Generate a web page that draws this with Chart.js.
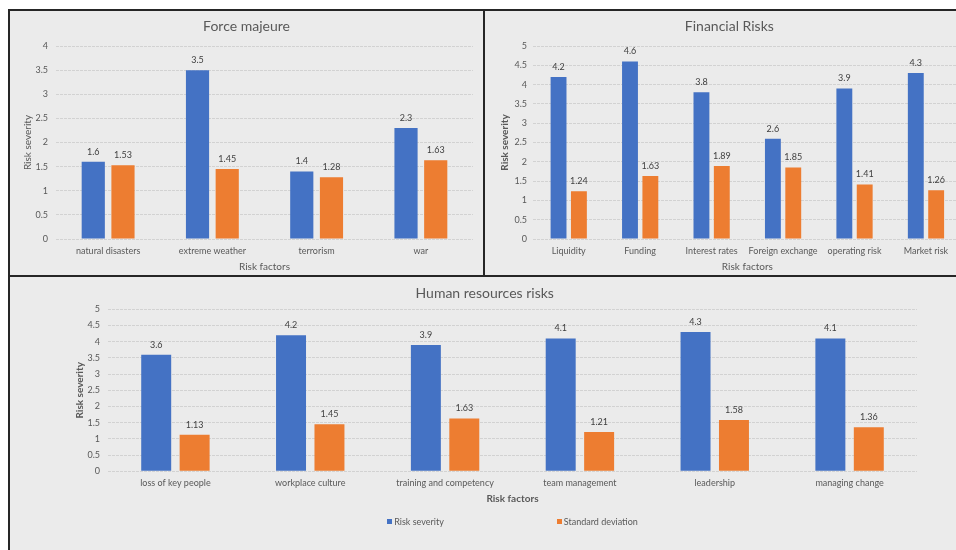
<!DOCTYPE html>
<html>
<head>
<meta charset="utf-8">
<script src="https://cdn.jsdelivr.net/npm/chart.js@4.4.0/dist/chart.umd.min.js"></script>
<style>
    body { margin: 0; width: 956px; height: 550px; overflow: hidden; background: #fff; position: relative; font-family: Lato, sans-serif }
    #wrap { position: absolute; left: 8px; top: 9px; width: 960px; height: 545px; background: #ebebeb; border-left: 2px solid #262626; border-top: 2px solid #262626 }
    .box { position: absolute }
    .box canvas { display: block }
    #vline { position: absolute; left: 473px; top: 0; width: 2px; height: 264px; background: #262626 }
    #hline { position: absolute; left: 0; top: 264px; width: 960px; height: 2px; background: #262626 }
    #legend { position: absolute; left: 98px; width: 809px; top: 504px; height: 12px; display: flex; justify-content: center; align-items: center; gap: 113px; font-size: 9px; color: #595959 }
    #legend span.item { display: flex; align-items: center }
    #legend i { display: inline-block; width: 5px; height: 5px; margin-right: 2px }
</style>
</head>
<body>
<div id="wrap">
    <div class="box" style="left:0;top:0"><canvas id="force" width="473" height="264"></canvas></div>
    <div id="vline"></div>
    <div class="box" style="left:475px;top:0"><canvas id="finance" width="488" height="264"></canvas></div>
    <div id="hline"></div>
    <div class="box" style="left:0;top:266px"><canvas id="human" width="946" height="273"></canvas></div>
    <div id="legend">
        <span class="item"><i style="background:#4472c4"></i>Risk severity</span>
        <span class="item"><i style="background:#ed7d31"></i>Standard deviation</span>
    </div>
</div>

<script>
const seriesNames = ["Risk severity", "Standard deviation"]

const forceLabels = ["natural disasters", "extreme weather", "terrorism", "war"]
const forceSeverity = [1.6, 3.5, 1.4, 2.3]
const forceDeviation = [1.53, 1.45, 1.28, 1.63]

const financeLabels = ["Liquidity", "Funding", "Interest rates", "Foreign exchange", "operating risk", "Market risk"]
const financeSeverity = [4.2, 4.6, 3.8, 2.6, 3.9, 4.3]
const financeDeviation = [1.24, 1.63, 1.89, 1.85, 1.41, 1.26]

const humanLabels = ["loss of key people", "workplace culture", "training and competency", "team management", "leadership", "managing change"]
const humanSeverity = [3.6, 4.2, 3.9, 4.1, 4.3, 4.1]
const humanDeviation = [1.13, 1.45, 1.63, 1.21, 1.58, 1.36]

const blue = "#4472c4"
const orange = "#ed7d31"
const textColor = "#595959"
const gridColor = "#d2d2d2"

// value labels over each bar
const valueLabels = {
    id: "valueLabels",
    afterDatasetsDraw(chart) {
        const ctx = chart.ctx
        ctx.save()
        ctx.font = "9px Lato"
        ctx.fillStyle = "#404040"
        ctx.textAlign = "center"
        ctx.textBaseline = "middle"
        chart.data.datasets.forEach((ds, i) => {
            chart.getDatasetMeta(i).data.forEach((bar, j) => {
                ctx.fillText(String(ds.data[j]), bar.x, bar.y - 10)
            })
        })
        ctx.restore()
    },
}

function makeChart(id, title, labels, severity, deviation, yMax, s) {
    return new Chart(document.getElementById(id), {
        type: "bar",
        data: {
            labels: labels,
            datasets: [
                { label: seriesNames[0], data: severity, backgroundColor: blue },
                { label: seriesNames[1], data: deviation, backgroundColor: orange },
            ],
        },
        plugins: [valueLabels],
        options: {
            responsive: false,
            animation: false,
            datasets: { bar: { categoryPercentage: 0.57, barPercentage: 0.78 } },
            layout: { padding: { left: s.padLeft, top: 0, right: s.padRight, bottom: s.padBottom } },
            plugins: {
                legend: { display: false },
                tooltip: { enabled: false },
                title: {
                    display: true,
                    text: title,
                    color: textColor,
                    font: { family: "Lato", size: 14, weight: "normal" },
                    padding: { top: s.titleTop, bottom: s.titleBottom },
                },
            },
            scales: {
                x: {
                    grid: { display: false, drawTicks: false },
                    border: { display: false },
                    ticks: { color: textColor, font: { family: "Lato", size: 9 }, padding: s.xPad, maxRotation: 0, autoSkip: false },
                    title: {
                        display: true,
                        text: "Risk factors",
                        color: textColor,
                        font: { family: "Lato", size: 10, weight: s.xBold ? "bold" : "normal" },
                        padding: { top: 0, bottom: s.xTitleBottom },
                    },
                    afterFit: (scale) => { scale.height = s.xHeight },
                },
                y: {
                    min: 0,
                    max: yMax,
                    grid: { color: gridColor, drawTicks: false },
                    border: { display: false, dash: [3, 1] },
                    ticks: {
                        stepSize: 0.5,
                        color: textColor,
                        font: { family: "Lato", size: 9 },
                        padding: s.yPad,
                        callback: (v) => String(+v.toFixed(1)),
                    },
                    title: {
                        display: true,
                        text: "Risk severity",
                        color: textColor,
                        font: { family: "Lato", size: 10, weight: s.yBold ? "bold" : "normal" },
                        padding: { top: s.yTitlePad, bottom: 0 },
                    },
                    afterFit: (scale) => { scale.width = s.yWidth },
                },
            },
        },
    })
}

makeChart("force", "Force majeure", forceLabels, forceSeverity, forceDeviation, 4, {
    padLeft: 10, padRight: 10, padBottom: 0, titleTop: 6.6, titleBottom: 11.6,
    xPad: 6.6, xHeight: 36, xTitleBottom: 2, xBold: false,
    yPad: 8, yWidth: 36, yTitlePad: 2, yBold: false,
})

makeChart("finance", "Financial Risks", financeLabels, financeSeverity, financeDeviation, 5, {
    padLeft: 12, padRight: 11.3, padBottom: 0, titleTop: 6.6, titleBottom: 11.6,
    xPad: 6.6, xHeight: 36, xTitleBottom: 2, xBold: false,
    yPad: 6, yWidth: 36, yTitlePad: 2, yBold: true,
})

makeChart("human", "Human resources risks", humanLabels, humanSeverity, humanDeviation, 5, {
    padLeft: 42.4, padRight: 39, padBottom: 45, titleTop: 7.6, titleBottom: 7.9,
    xPad: 6, xHeight: 33.7, xTitleBottom: 0.3, xBold: true,
    yPad: 8, yWidth: 55.6, yTitlePad: 21.6, yBold: true,
})
</script>
</body>
</html>
